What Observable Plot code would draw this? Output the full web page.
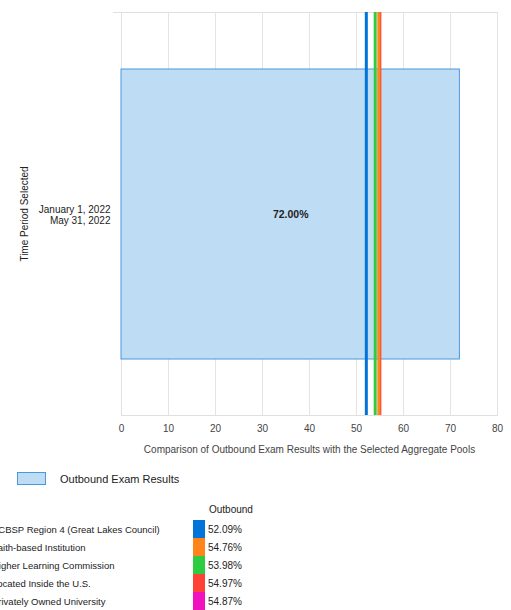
<!DOCTYPE html>
<html>
<head>
<meta charset="utf-8">
<script src="https://cdn.jsdelivr.net/npm/d3@7"></script>
<script src="https://cdn.jsdelivr.net/npm/@observablehq/plot@0.6"></script>
<style>
  body { margin: 0; background: #fff; font-family: "Liberation Sans", Arial, sans-serif; }
  #wrap { position: relative; width: 511px; height: 610px; overflow: hidden; }
  #chart { position: absolute; left: 0; top: 0; }
  .abs { position: absolute; white-space: nowrap; font-size: 10px; color: #222; line-height: 18px; }
</style>
</head>
<body>
<div id="wrap"><div id="chart"></div></div>
<script>
const periods = ["January 1, 2022\nMay 31, 2022"];
const seriesName = "Outbound Exam Results";
const barValues = [72.00];
const pools = [
  "ACBSP Region 4 (Great Lakes Council)",
  "Faith-based Institution",
  "Higher Learning Commission",
  "Located Inside the U.S.",
  "Privately Owned University"
];
const poolValues = [52.09, 54.76, 53.98, 54.97, 54.87];
const poolColors = ["#0074D9", "#FF851B", "#2ECC40", "#FF4136", "#F012BE"];
const xTicks = [0, 10, 20, 30, 40, 50, 60, 70, 80];

const bars = periods.map((p, i) => ({period: p, value: barValues[i]}));
const lines = pools.map((p, i) => ({pool: p, value: poolValues[i], color: poolColors[i]})).reverse();

const plot = Plot.plot({
  width: 511,
  height: 460,
  marginLeft: 121,
  marginRight: 14,
  marginTop: 12,
  marginBottom: 45,
  style: {fontFamily: "Liberation Sans, Arial, sans-serif", fontSize: "10px", color: "#444"},
  x: {domain: [0, 80], ticks: xTicks, grid: false, label: null},
  y: {domain: periods, padding: 0.163, label: null},
  marks: [
    Plot.gridX(xTicks, {stroke: "#e4e4e4", strokeOpacity: 1, strokeWidth: 1}),
    Plot.frame({anchor: "top", stroke: "#e0e0e0", insetLeft: -8}),
    Plot.frame({anchor: "left", stroke: "#e0e0e0"}),
    Plot.frame({anchor: "bottom", stroke: "#e0e0e0"}),
    Plot.barX(bars, {x: "value", y: "period", fill: "#bfdcf5", stroke: "#4a98e0", strokeWidth: 1}),
    Plot.text(bars, {x: d => d.value / 2, y: "period", text: d => d.value.toFixed(2) + "%", fontWeight: "bold", fill: "#222", fontSize: 10.5}),
    Plot.ruleX(lines, {x: "value", stroke: "color", strokeWidth: 3}),
    Plot.axisX({ticks: xTicks, tickSize: 0, tickPadding: 9, fill: "#444", fontSize: 10, label: "Comparison of Outbound Exam Results with the Selected Aggregate Pools", labelAnchor: "center", labelOffset: 37, labelArrow: "none"}),
    Plot.axisY({tickSize: 0, tickPadding: 11, fill: "#222", fontSize: 10, label: "Time Period Selected", labelAnchor: "center", labelOffset: 101, labelArrow: "none", lineHeight: 1.1}),
  ]
});
document.getElementById("chart").appendChild(plot);

const wrap = document.getElementById("wrap");
function add(html, css) {
  const d = document.createElement("div");
  d.className = "abs";
  Object.assign(d.style, css);
  d.innerHTML = html;
  wrap.appendChild(d);
  return d;
}
// series legend
add("", {left: "17px", top: "472px", width: "27px", height: "11px", background: "#bfdcf5", border: "1px solid #4a98e0", lineHeight: "11px"});
add(seriesName, {left: "60px", top: "471px", fontSize: "11px", lineHeight: "16px"});
// pool table
add("Outbound", {left: "209px", top: "501px"});
pools.forEach((p, i) => {
  const top = 520 + i * 18;
  add(p, {left: "-8px", top: (top + 1) + "px", fontSize: "9.5px"});
  add("", {left: "193px", top: top + "px", width: "12px", height: "18px", background: poolColors[i]});
  add(poolValues[i].toFixed(2) + "%", {left: "208px", top: (top + 1) + "px"});
});
</script>
</body>
</html>
